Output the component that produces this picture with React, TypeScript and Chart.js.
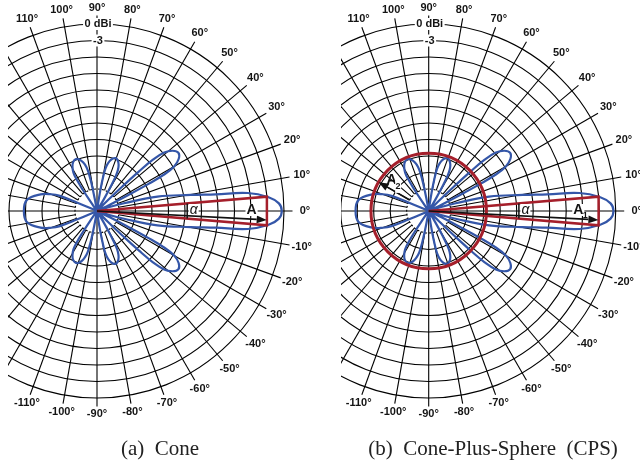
import React, { useEffect, useRef } from "react";
import { Chart, registerables } from "chart.js";

Chart.register(...registerables);

// ---------------- values ----------------
// polar grid: rings every 3 dB from 0 dBi down to -30 dBi, spokes every 10 degrees
const ringGains = [0, -3, -6, -9, -12, -15, -18, -21, -24, -27, -30];
const ringLabelGains = [0, -3];
const ringLabelTexts = ["0 dBi", "-3"];
const spokeAngles = [0, 10, 20, 30, 40, 50, 60, 70, 80, 90, 100, 110, 120, 130, 140, 150, 160, 170, 180,
  190, 200, 210, 220, 230, 240, 250, 260, 270, 280, 290, 300, 310, 320, 330, 340, 350];
const angleLabels = [110, 100, 90, 80, 70, 60, 50, 40, 30, 20, 10, 0, -10, -20, -30, -40, -50, -60, -70, -80, -90, -100, -110];

// radiation pattern (identical in both panels): angle in degrees -> gain in dBi, one pair per lobe
const mainLobeAngle = [-19.5, -18, -16, -13.4, -9.7, -8, -6.8, -4.6, -2.4, 0, 2.4, 4.6, 6.8, 8, 9.7, 13.4, 16, 18, 19.5];
const mainLobeGain = [-34, -31.8, -28.9, -22.7, -16.7, -12.2, -6.4, -2.7, -0.9, -0.4, -0.9, -2.7, -6.4, -12.2, -16.7, -22.7, -28.9, -31.8, -34];

const upperSideLobeAngle = [25.5, 26.2, 27, 27.7, 28.5, 30, 32.5, 35.5, 38.5, 41, 42.5, 43.3, 44, 44.8, 45.5];
const upperSideLobeGain = [-34, -31.3, -27.6, -23.5, -20.2, -17.8, -16.4, -15.8, -16.4, -17.8, -20.2, -23.5, -27.6, -31.3, -34];
const lowerSideLobeAngle = [-25.5, -26.2, -27, -27.7, -28.5, -30, -32.5, -35.5, -38.5, -41, -42.5, -43.3, -44, -44.8, -45.5];
const lowerSideLobeGain = [-34, -31.3, -27.6, -23.5, -20.2, -17.8, -16.4, -15.8, -16.4, -17.8, -20.2, -23.5, -27.6, -31.3, -34];

const upperRightMinorAngle = [59, 59.7, 60.7, 61.8, 63, 65, 67.5, 70.5, 73.5, 76, 78, 79.2, 80.3, 81.3, 82];
const upperRightMinorGain = [-34, -31.5, -28.9, -26.7, -25.6, -24.7, -24.1, -23.8, -24.1, -24.7, -25.6, -26.7, -28.9, -31.5, -34];
const lowerRightMinorAngle = [-59, -59.7, -60.7, -61.8, -63, -65, -67.5, -70.5, -73.5, -76, -78, -79.2, -80.3, -81.3, -82];
const lowerRightMinorGain = [-34, -31.5, -28.9, -26.7, -25.6, -24.7, -24.1, -23.8, -24.1, -24.7, -25.6, -26.7, -28.9, -31.5, -34];

const upperLeftMinorAngle = [99.8, 100.5, 101.2, 102.2, 103.5, 106, 109, 112.5, 116, 119, 121.5, 122.8, 123.8, 124.5, 125.2];
const upperLeftMinorGain = [-34, -31.6, -29.3, -27.1, -25.8, -24.8, -24.1, -23.8, -24.1, -24.8, -25.8, -27.1, -29.3, -31.6, -34];
const lowerLeftMinorAngle = [-99.8, -100.5, -101.2, -102.2, -103.5, -106, -109, -112.5, -116, -119, -121.5, -122.8, -123.8, -124.5, -125.2];
const lowerLeftMinorGain = [-34, -31.6, -29.3, -27.1, -25.8, -24.8, -24.1, -23.8, -24.1, -24.8, -25.8, -27.1, -29.3, -31.6, -34];

const backLobeAngle = [156.2, 157, 157.8, 160, 163.6, 171, 180, 189, 196.4, 200, 202.2, 203, 203.8];
const backLobeGain = [-34, -30, -26.7, -25.1, -23.3, -21.1, -20.7, -21.1, -23.3, -25.1, -26.7, -30, -34];

// cone (-3 dB beam) and sphere
const coneHalfAngle = 4.8;
const coneGain = -3;
const beamArrowAngle = -3;
const beamArrowGain = -3.1;
const alphaMarkGain = -17.6;
const sphereGain = -23.5;
const sphereArrowAngle = 150;
const sphereArrowStartGain = -30;
const captions = ["(a)  Cone", "(b)  Cone-Plus-Sphere  (CPS)"];

// ---------------- layout ----------------
const W = 640;
const H = 466;
const CENTRE_GAIN = -34; // gain drawn at the pole
const PX_PER_DB = 5.5;
const POLE_PX = [[97, 211], [428.7, 211]];
const CLIP_PX = [[8, 336], [341, 640]];
const X_MIN = -POLE_PX[0][0] / PX_PER_DB;
const X_MAX = (W - POLE_PX[0][0]) / PX_PER_DB;
const Y_MIN = -(H - POLE_PX[0][1]) / PX_PER_DB;
const Y_MAX = POLE_PX[0][1] / PX_PER_DB;
const POLE_X = POLE_PX.map((p) => (p[0] - POLE_PX[0][0]) / PX_PER_DB);
const CAPTION_X = [160, 493];
const CAPTION_Y = 455;

const GRID = "#000000";
const BLUE = "#3456a8";
const RED = "#a51f2b";
const LABEL_FONT = 'bold 11px "Liberation Sans", Arial, sans-serif';

const rad = (d: number) => (d * Math.PI) / 180;

const lobes: [number[], number[]][] = [
  [mainLobeAngle, mainLobeGain],
  [upperSideLobeAngle, upperSideLobeGain],
  [upperRightMinorAngle, upperRightMinorGain],
  [upperLeftMinorAngle, upperLeftMinorGain],
  [backLobeAngle, backLobeGain],
  [lowerLeftMinorAngle, lowerLeftMinorGain],
  [lowerRightMinorAngle, lowerRightMinorGain],
  [lowerSideLobeAngle, lowerSideLobeGain],
];

function toXY(poleX: number, angle: number, gain: number) {
  const r = gain - CENTRE_GAIN;
  return { x: poleX + r * Math.cos(rad(angle)), y: r * Math.sin(rad(angle)) };
}

function patternData(poleX: number) {
  const pts: { x: number; y: number }[] = [];
  lobes.forEach(([ang, gain], k) => {
    if (k > 0) pts.push({ x: NaN, y: NaN });
    ang.forEach((a, i) => pts.push(toXY(poleX, a, gain[i])));
  });
  return pts;
}

function coneData(poleX: number) {
  return [
    toXY(poleX, 0, CENTRE_GAIN),
    toXY(poleX, coneHalfAngle, coneGain),
    toXY(poleX, -coneHalfAngle, coneGain),
    toXY(poleX, 0, CENTRE_GAIN),
  ];
}

function label(ctx: CanvasRenderingContext2D, txt: string, x: number, y: number, font: string, bg: boolean, pad = 1.5) {
  ctx.font = font;
  ctx.textAlign = "center";
  ctx.textBaseline = "middle";
  if (bg) {
    const w = ctx.measureText(txt).width;
    ctx.fillStyle = "#ffffff";
    ctx.fillRect(x - w / 2 - pad, y - 6, w + 2 * pad, 12);
  }
  ctx.fillStyle = "#141414";
  ctx.fillText(txt, x, y);
}

function arrow(ctx: CanvasRenderingContext2D, x0: number, y0: number, x1: number, y1: number) {
  const ang = Math.atan2(y1 - y0, x1 - x0);
  const hl = 10;
  const hw = 4;
  const bx = x1 - hl * Math.cos(ang);
  const by = y1 - hl * Math.sin(ang);
  ctx.strokeStyle = "#111";
  ctx.fillStyle = "#111";
  ctx.lineWidth = 1.7;
  ctx.beginPath();
  ctx.moveTo(x0, y0);
  ctx.lineTo(bx, by);
  ctx.stroke();
  ctx.beginPath();
  ctx.moveTo(x1, y1);
  ctx.lineTo(bx - hw * Math.sin(ang), by + hw * Math.cos(ang));
  ctx.lineTo(bx + hw * Math.sin(ang), by - hw * Math.cos(ang));
  ctx.closePath();
  ctx.fill();
}

const polarPlugin = {
  id: "polarGrid",
  beforeDatasetsDraw(chart: any) {
    const { ctx } = chart;
    const xs = chart.scales.x;
    const ys = chart.scales.y;
    const unit = xs.getPixelForValue(1) - xs.getPixelForValue(0);
    const rOf = (g: number) => (g - CENTRE_GAIN) * unit;
    const rOut = rOf(ringGains[0]);
    const rIn = rOf(ringGains[ringGains.length - 1]);
    POLE_X.forEach((px, p) => {
      const cx = xs.getPixelForValue(px);
      const cy = ys.getPixelForValue(0);
      ctx.save();
      ctx.beginPath();
      ctx.rect(CLIP_PX[p][0], 0, CLIP_PX[p][1] - CLIP_PX[p][0], H);
      ctx.clip();
      ctx.strokeStyle = GRID;
      ctx.lineWidth = 1.1;
      ringGains.forEach((g, i) => {
        ctx.setLineDash(i === ringGains.length - 1 ? [2, 2] : []);
        ctx.beginPath();
        ctx.arc(cx, cy, rOf(g), 0, Math.PI * 2);
        ctx.stroke();
      });
      ctx.setLineDash([]);
      spokeAngles.forEach((a) => {
        const r0 = a % 90 === 0 ? 0 : rIn;
        const r1 = rOut + 8.5;
        ctx.beginPath();
        ctx.moveTo(cx + r0 * Math.cos(rad(a)), cy - r0 * Math.sin(rad(a)));
        ctx.lineTo(cx + r1 * Math.cos(rad(a)), cy - r1 * Math.sin(rad(a)));
        ctx.stroke();
      });
      angleLabels.forEach((a) => {
        const r = rOut + 16 + 5 * Math.abs(Math.cos(rad(a)));
        label(ctx, `${a}°`, cx + r * Math.cos(rad(a)), cy - r * Math.sin(rad(a)), LABEL_FONT, false);
      });
      ringLabelGains.forEach((g, i) => {
        label(ctx, ringLabelTexts[i], cx + 1, cy - rOf(g), LABEL_FONT, true);
      });
      ctx.restore();
    });
  },
  afterDatasetsDraw(chart: any) {
    const { ctx } = chart;
    const xs = chart.scales.x;
    const ys = chart.scales.y;
    const unit = xs.getPixelForValue(1) - xs.getPixelForValue(0);
    const rOf = (g: number) => (g - CENTRE_GAIN) * unit;
    POLE_X.forEach((px, p) => {
      const cx = xs.getPixelForValue(px);
      const cy = ys.getPixelForValue(0);
      const at = (a: number, g: number) => [cx + rOf(g) * Math.cos(rad(a)), cy - rOf(g) * Math.sin(rad(a))];
      ctx.save();
      if (p === 1) {
        ctx.strokeStyle = RED;
        ctx.lineWidth = 3;
        ctx.beginPath();
        ctx.arc(cx, cy, rOf(sphereGain), 0, Math.PI * 2);
        ctx.stroke();
      }
      // alpha marker across the cone
      const ra = rOf(alphaMarkGain);
      const half = ra * Math.tan(rad(coneHalfAngle));
      ctx.strokeStyle = "#111";
      ctx.lineWidth = 1.5;
      ctx.beginPath();
      ctx.moveTo(cx + ra, cy - half);
      ctx.lineTo(cx + ra, cy + half);
      ctx.stroke();
      const [alx, aly] = at(0, -16.6);
      label(ctx, "α", alx + 1, aly - 1, 'italic 14px "Liberation Sans", Arial, sans-serif', true, 1);
      // beam arrow A / A1
      const [tx, ty] = at(beamArrowAngle, beamArrowGain);
      arrow(ctx, cx, cy, tx, ty);
      if (p === 0) {
        const [lx, ly] = at(0, -5.9);
        label(ctx, "A", lx, ly - 1, 'bold 14px "Liberation Sans", Arial, sans-serif', true, 1);
      } else {
        const [lx, ly] = at(0, -6.8);
        label(ctx, "A", lx, ly - 1, 'bold 14px "Liberation Sans", Arial, sans-serif', true, 1);
        label(ctx, "1", lx + 7, ly + 5, 'bold 9px "Liberation Sans", Arial, sans-serif', false);
        // sphere arrow A2
        const [sx, sy] = at(sphereArrowAngle, sphereArrowStartGain);
        const [ex, ey] = at(sphereArrowAngle, sphereGain);
        arrow(ctx, sx, sy, ex, ey);
        const [bx, by] = at(140, -25.2);
        label(ctx, "A", bx, by, 'bold 14px "Liberation Sans", Arial, sans-serif', false);
        label(ctx, "2", bx + 6.5, by + 7, 'bold 9px "Liberation Sans", Arial, sans-serif', true, 0.5);
      }
      ctx.restore();
    });
    ctx.save();
    ctx.font = '21px "Liberation Serif", "Times New Roman", serif';
    ctx.fillStyle = "#222";
    ctx.textAlign = "center";
    ctx.textBaseline = "alphabetic";
    captions.forEach((c, i) => ctx.fillText(c, CAPTION_X[i], CAPTION_Y));
    ctx.restore();
  },
};

export default function App() {
  const ref = useRef<HTMLCanvasElement>(null);
  useEffect(() => {
    if (!ref.current) return;
    const datasets: any[] = [];
    POLE_X.forEach((px) => {
      datasets.push({
        label: "cone",
        data: coneData(px),
        showLine: true,
        tension: 0,
        borderColor: RED,
        borderWidth: 2.5,
        borderJoinStyle: "miter",
        pointRadius: 0,
        fill: false,
      });
    });
    POLE_X.forEach((px) => {
      datasets.push({
        label: "pattern",
        data: patternData(px),
        showLine: true,
        tension: 0.4,
        spanGaps: false,
        borderColor: BLUE,
        borderWidth: 2.2,
        borderJoinStyle: "round",
        borderCapStyle: "round",
        pointRadius: 0,
        fill: false,
      });
    });
    const chart = new Chart(ref.current, {
      type: "scatter",
      data: { datasets },
      options: {
        animation: false,
        responsive: false,
        events: [],
        layout: { padding: 0 },
        plugins: { legend: { display: false }, tooltip: { enabled: false }, title: { display: false } },
        scales: {
          x: { type: "linear", display: false, min: X_MIN, max: X_MAX },
          y: { type: "linear", display: false, min: Y_MIN, max: Y_MAX },
        },
      },
      plugins: [polarPlugin],
    } as any);
    return () => chart.destroy();
  }, []);
  return (
    <div style={{ position: "absolute", left: 0, top: 0, width: W, height: H, background: "#fff" }}>
      <canvas ref={ref} width={W} height={H} style={{ display: "block", width: W, height: H }} />
    </div>
  );
}
